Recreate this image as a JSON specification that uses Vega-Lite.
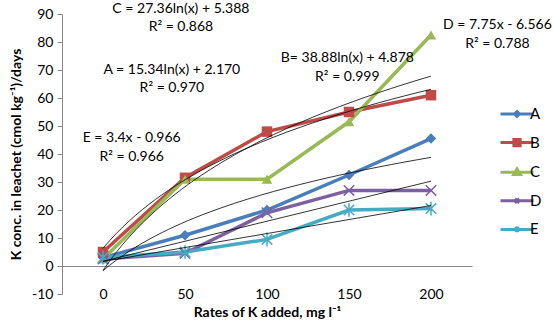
{
  "$schema": "https://vega.github.io/schema/vega-lite/v6.json",
  "width": 410,
  "height": 280,
  "autosize": "none",
  "padding": {"left": 62, "top": 14, "right": 83, "bottom": 31},
  "background": "white",
  "config": {"font": "Lato", "view": {"stroke": null}},
  "datasets": {
    "obs": [
      {"series": "A", "rate": 0, "n": 1, "value": 3},
      {"series": "A", "rate": 50, "n": 2, "value": 11},
      {"series": "A", "rate": 100, "n": 3, "value": 20},
      {"series": "A", "rate": 150, "n": 4, "value": 32.5},
      {"series": "A", "rate": 200, "n": 5, "value": 45.5},
      {"series": "B", "rate": 0, "n": 1, "value": 5},
      {"series": "B", "rate": 50, "n": 2, "value": 31.5},
      {"series": "B", "rate": 100, "n": 3, "value": 48},
      {"series": "B", "rate": 150, "n": 4, "value": 55},
      {"series": "B", "rate": 200, "n": 5, "value": 61},
      {"series": "C", "rate": 0, "n": 1, "value": 2.5},
      {"series": "C", "rate": 50, "n": 2, "value": 31},
      {"series": "C", "rate": 100, "n": 3, "value": 31},
      {"series": "C", "rate": 150, "n": 4, "value": 51.5},
      {"series": "C", "rate": 200, "n": 5, "value": 82.5},
      {"series": "D", "rate": 0, "n": 1, "value": 2.5},
      {"series": "D", "rate": 50, "n": 2, "value": 4.5},
      {"series": "D", "rate": 100, "n": 3, "value": 19},
      {"series": "D", "rate": 150, "n": 4, "value": 27},
      {"series": "D", "rate": 200, "n": 5, "value": 27},
      {"series": "E", "rate": 0, "n": 1, "value": 3},
      {"series": "E", "rate": 50, "n": 2, "value": 5},
      {"series": "E", "rate": 100, "n": 3, "value": 9.5},
      {"series": "E", "rate": 150, "n": 4, "value": 20},
      {"series": "E", "rate": 200, "n": 5, "value": 20.5}
    ],
    "notes": [
      {"label": "C = 27.36ln(x) + 5.388", "n": 1.95, "value": 91.8},
      {"label": "R² = 0.868", "n": 1.95, "value": 85.4},
      {"label": "A = 15.34ln(x) + 2.170", "n": 1.84, "value": 70.0},
      {"label": "R² = 0.970", "n": 1.84, "value": 63.6},
      {"label": "E = 3.4x - 0.966", "n": 1.35, "value": 45.7},
      {"label": "R² = 0.966", "n": 1.35, "value": 38.9},
      {"label": "B= 38.88ln(x) + 4.878", "n": 3.98, "value": 74.3},
      {"label": "R² = 0.999", "n": 3.98, "value": 67.5},
      {"label": "D = 7.75x - 6.566", "n": 5.81, "value": 86.1},
      {"label": "R² = 0.788", "n": 5.81, "value": 79.3}
    ]
  },
  "encoding": {
    "x": {
      "field": "n", "type": "quantitative",
      "scale": {"domain": [0.5, 5.5], "nice": false, "zero": false},
      "axis": {
        "values": [1, 2, 3, 4, 5],
        "labelExpr": "format((datum.value - 1) * 50, 'd')",
        "domain": false, "ticks": false, "grid": false,
        "labelFontSize": 14, "labelColor": "#000000", "labelPadding": 0, "labelBaseline": "middle",
        "title": "Rates of K added, mg l⁻¹",
        "titleFontSize": 14, "titleFontWeight": "bold", "titleColor": "#000000", "titlePadding": 4
      }
    },
    "y": {
      "field": "value", "type": "quantitative",
      "scale": {"domain": [-10, 90], "nice": false, "zero": false},
      "axis": {
        "values": [-10, 0, 10, 20, 30, 40, 50, 60, 70, 80, 90],
        "labelExpr": "'' + datum.value",
        "grid": true,
        "gridColor": "#868686",
        "gridOpacity": {"condition": {"test": "datum.value === 0", "value": 1}, "value": 0},
        "domainColor": "#868686", "tickColor": "#868686", "tickSize": 5,
        "labelFontSize": 14, "labelColor": "#000000", "labelPadding": 4,
        "title": "K conc. in leachet (cmol kg⁻¹)/days",
        "titleFontSize": 14, "titleFontWeight": "bold", "titleColor": "#000000", "titlePadding": 8
      }
    }
  },
  "layer": [
    {
      "data": {"name": "obs"},
      "mark": {"type": "line", "strokeWidth": 3.5},
      "encoding": {
        "color": {
          "field": "series", "type": "nominal", "legend": null,
          "scale": {"domain": ["A", "B", "C", "D", "E"], "range": ["#4A7EBB", "#BE4B48", "#98B954", "#7D60A0", "#46AAC5"]}
        }
      }
    },
    {
      "data": {"name": "obs"},
      "transform": [{"filter": {"field": "series", "oneOf": ["A", "B", "C"]}}],
      "mark": {"type": "point", "filled": true, "opacity": 1, "size": 110},
      "encoding": {
        "color": {"field": "series", "type": "nominal", "legend": null},
        "shape": {
          "field": "series", "type": "nominal", "legend": null,
          "scale": {"domain": ["A", "B", "C"], "range": ["diamond", "square", "triangle-up"]}
        }
      }
    },
    {
      "data": {"name": "obs"},
      "transform": [{"filter": {"field": "series", "oneOf": ["D", "E"]}}],
      "mark": {"type": "point", "filled": false, "opacity": 1, "size": 110, "strokeWidth": 1.5},
      "encoding": {
        "color": {"field": "series", "type": "nominal", "legend": null},
        "shape": {
          "field": "series", "type": "nominal", "legend": null,
          "scale": {"domain": ["D", "E"], "range": ["M-1,-1L1,1M-1,1L1,-1", "M-1,-1L1,1M-1,1L1,-1M0,-1.3V1.3"]}
        }
      }
    },
    {
      "data": {"name": "obs"},
      "transform": [
        {"filter": {"field": "series", "oneOf": ["A", "B", "C"]}},
        {"regression": "value", "on": "n", "method": "log", "groupby": ["series"]}
      ],
      "mark": {"type": "line", "color": "#000000", "strokeWidth": 0.8},
      "encoding": {"detail": {"field": "series", "type": "nominal"}}
    },
    {
      "data": {"name": "obs"},
      "transform": [
        {"filter": {"field": "series", "oneOf": ["D", "E"]}},
        {"regression": "value", "on": "n", "method": "linear", "groupby": ["series"]}
      ],
      "mark": {"type": "line", "color": "#000000", "strokeWidth": 0.8},
      "encoding": {"detail": {"field": "series", "type": "nominal"}}
    },
    {
      "data": {"name": "obs"},
      "transform": [{"filter": {"field": "series", "equal": "none"}}],
      "mark": {
        "type": "point", "filled": true, "opacity": 1, "strokeWidth": 3,
        "fill": {"expr": "scale('color', datum.value)"},
        "stroke": {"expr": "scale('color', datum.value)"}
      },
      "encoding": {
        "shape": {
          "field": "series", "type": "nominal",
          "scale": {
            "domain": ["A", "B", "C", "D", "E"],
            "range": [
              "M-1,0H1M0,-0.15L0.15,0L0,0.15L-0.15,0Z",
              "M-1,0H1M-0.19,-0.19H0.19V0.19H-0.19Z",
              "M-1,0H1M0,-0.2L0.2,0.14H-0.2Z",
              "M-1,0H1M-0.13,-0.13L0.13,0.13M-0.13,0.13L0.13,-0.13",
              "M-1,0H1M-0.13,-0.13L0.13,0.13M-0.13,0.13L0.13,-0.13M0,-0.17V0.17"
            ]
          },
          "legend": {
            "title": null, "orient": "none", "legendX": 437, "legendY": 82,
            "symbolSize": 1089, "symbolStrokeWidth": 3, "rowPadding": 1.6,
            "labelFontSize": 15, "labelColor": "#000000", "labelOffset": -5, "padding": 0
          }
        }
      }
    },
    {
      "data": {"name": "notes"},
      "mark": {"type": "text", "fontSize": 14, "color": "#000000", "align": "center", "baseline": "middle", "clip": false},
      "encoding": {"text": {"field": "label"}}
    }
  ],
  "resolve": {"scale": {"shape": "independent"}}
}
